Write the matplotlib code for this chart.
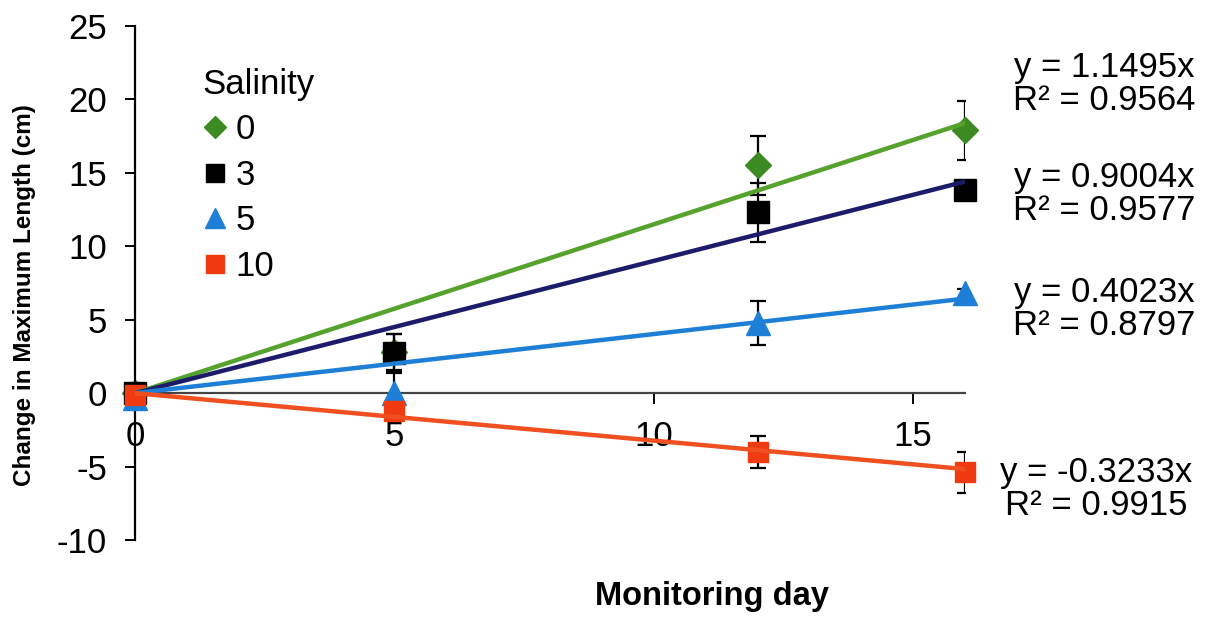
import numpy as np
import matplotlib
matplotlib.use("Agg")
import matplotlib.pyplot as plt

plt.rcParams['font.family'] = ['Liberation Sans', 'DejaVu Sans']
plt.rcParams['axes.unicode_minus'] = False

# monitoring days and mean change in maximum length per salinity
days = [0, 5, 12, 16]
salinity = ['0', '3', '5', '10']
growth_s0 = [0.0, 2.8, 15.5, 17.9]
growth_s3 = [0.0, 2.7, 12.3, 13.8]
growth_s5 = [-0.3, 0.0, 4.8, 6.8]
growth_s10 = [-0.1, -1.2, -4.0, -5.4]
err_s0 = [0.0, 1.2, 2.0, 2.0]
err_s3 = [0.0, 1.3, 2.0, 0.4]
err_s5 = [0.0, 1.5, 1.5, 0.3]
err_s10 = [0.1, 0.3, 1.1, 1.4]

# fitted trendlines through the origin
slopes = [1.1495, 0.9004, 0.4023, -0.3233]
r2 = [0.9564, 0.9577, 0.8797, 0.9915]

marker_colors = ['#3b8a22', '#000000', '#1e7fd6', '#f03a12']
line_colors = ['#55a22c', '#1c1c6b', '#1e7fd6', '#f05020']
markers = ['D', 's', '^', 's']
msizes = [13.5, 16, 17, 15]

fig = plt.figure(figsize=(12.19, 6.17), dpi=100)
ax = fig.add_axes([0.1107, 0.1248, 0.681, 0.8331])

series = [growth_s0, growth_s3, growth_s5, growth_s10]
errors = [err_s0, err_s3, err_s5, err_s10]
handles = []
for i in range(4):
    ax.errorbar(days, series[i], yerr=errors[i], fmt='none', ecolor='black',
                elinewidth=1.6, capsize=6, capthick=1.6, zorder=2 + i)
    h, = ax.plot(days, series[i], linestyle='none', marker=markers[i],
                 markersize=msizes[i], color=marker_colors[i],
                 label=salinity[i], clip_on=False, zorder=2.5 + i)
    handles.append(h)

xfit = np.array([0, 16])
for i in range(4):
    ax.plot(xfit, slopes[i] * xfit, color=line_colors[i], linewidth=3.2,
            solid_capstyle='butt', zorder=10)

ax.set_xlim(0, 16)
ax.set_ylim(-10, 25)
ax.set_xticks([0, 5, 10, 15])
ax.set_yticks(range(-10, 26, 5))

ax.spines['top'].set_visible(False)
ax.spines['right'].set_visible(False)
ax.spines['bottom'].set_position(('data', 0))
ax.spines['bottom'].set_color('#444444')
ax.spines['bottom'].set_linewidth(1.6)
ax.spines['left'].set_linewidth(1.6)
ax.tick_params(axis='y', direction='out', length=7, width=1.4,
               labelsize=25, pad=13)
ax.tick_params(axis='x', direction='out', length=8, width=1.4,
               labelsize=25, pad=11)

fig.text(0.02, 0.522, 'Change in Maximum Length (cm)', rotation=90,
         fontsize=17.5, fontweight='bold', ha='center', va='center')
fig.text(0.584, 0.033, 'Monitoring day', fontsize=23.5, fontweight='bold',
         ha='center', va='center')

leg = ax.legend(handles=handles, title='Salinity', loc='upper left',
                bbox_to_anchor=(0.152, 0.918), bbox_transform=fig.transFigure,
                frameon=False, fontsize=25, title_fontsize=25,
                handlelength=0.7, handletextpad=0.25, labelspacing=0.36,
                borderpad=0, alignment='left', markerscale=0.85)

eq_pos = [(0.906, 0.864), (0.906, 0.686), (0.906, 0.499), (0.899, 0.208)]
for i in range(4):
    fig.text(eq_pos[i][0], eq_pos[i][1],
             'y = {:.4f}x\nR² = {:.4f}'.format(slopes[i], r2[i]),
             fontsize=25, ha='center', va='center', multialignment='center',
             linespacing=1.0)

fig.savefig('out.png', dpi=100)
